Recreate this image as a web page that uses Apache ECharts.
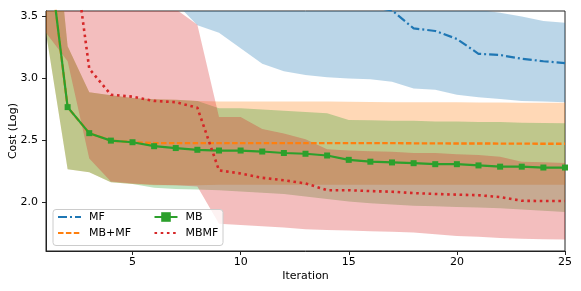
<!DOCTYPE html>
<html><head><meta charset="utf-8">
<script src="https://cdn.jsdelivr.net/npm/echarts@6/dist/echarts.min.js"></script>
<style>html,body{margin:0;padding:0;background:#fff}#c{width:581px;height:291px}</style>
</head><body><div id="c"></div>
<script>
const iterations = [1,2,3,4,5,6,7,8,9,10,11,12,13,14,15,16,17,18,19,20,21,22,23,24,25];
const xTicks = [5,10,15,20,25];
const yTicks = [2.0,2.5,3.0,3.5];

// MF
const mfMean = [5.30,5.10,4.95,4.80,4.65,4.50,4.35,4.20,4.08,3.97,3.87,3.79,3.72,3.66,3.61,3.58,3.55,3.405,3.384,3.32,3.20,3.19,3.16,3.14,3.125];
const mfLow  = [4.60,4.30,4.10,3.95,3.80,3.70,3.61,3.43,3.37,3.245,3.12,3.06,3.03,3.01,3.00,2.995,2.974,2.92,2.91,2.87,2.85,2.835,2.82,2.815,2.81];
const mfHigh = [6.00,5.90,5.80,5.65,5.50,5.30,5.10,4.97,4.79,4.69,4.62,4.52,4.41,4.31,4.22,4.16,4.13,3.89,3.86,3.77,3.555,3.53,3.50,3.465,3.45];
// MB+MF
const mbPlusMfMean = [4.19,2.77,2.56,2.50,2.487,2.48,2.48,2.48,2.48,2.48,2.48,2.48,2.48,2.48,2.48,2.48,2.48,2.478,2.478,2.477,2.477,2.476,2.476,2.475,2.475];
const mbPlusMfLow  = [3.37,2.27,2.245,2.165,2.15,2.14,2.14,2.14,2.145,2.145,2.145,2.145,2.145,2.145,2.145,2.145,2.145,2.145,2.145,2.145,2.145,2.145,2.145,2.145,2.145];
const mbPlusMfHigh = [5.01,3.26,2.89,2.865,2.843,2.834,2.83,2.82,2.815,2.815,2.815,2.815,2.815,2.815,2.813,2.812,2.81,2.81,2.81,2.81,2.808,2.808,2.806,2.805,2.805];
// MB
const mbMean = [4.19,2.77,2.56,2.50,2.487,2.455,2.44,2.426,2.42,2.42,2.412,2.40,2.394,2.38,2.345,2.33,2.324,2.318,2.31,2.31,2.30,2.29,2.29,2.283,2.283];
const mbLow  = [3.37,2.27,2.245,2.165,2.15,2.12,2.11,2.105,2.10,2.09,2.08,2.07,2.05,2.03,2.01,1.995,1.985,1.975,1.97,1.965,1.96,1.955,1.945,1.935,1.925];
const mbHigh = [5.01,3.26,2.89,2.865,2.843,2.834,2.83,2.82,2.76,2.76,2.75,2.74,2.73,2.72,2.667,2.665,2.66,2.66,2.655,2.655,2.65,2.65,2.645,2.642,2.64];
// MBMF
const mbmfMean = [4.70,4.39,3.08,2.87,2.854,2.82,2.81,2.765,2.26,2.235,2.20,2.18,2.155,2.10,2.10,2.093,2.088,2.077,2.07,2.064,2.06,2.045,2.015,2.013,2.013];
const mbmfLow  = [3.37,3.14,2.355,2.17,2.155,2.145,2.14,2.13,1.83,1.82,1.81,1.80,1.785,1.78,1.775,1.77,1.765,1.76,1.745,1.73,1.725,1.715,1.708,1.705,1.703];
const mbmfHigh = [6.00,5.64,3.80,3.60,3.58,3.57,3.56,3.435,2.69,2.69,2.594,2.557,2.51,2.43,2.42,2.415,2.41,2.40,2.40,2.39,2.385,2.37,2.33,2.325,2.32];

const FONT = 'DejaVu Sans';
function pairs(ys){ return iterations.map((x,i)=>[x, ys[i]]); }
function band(key, lo, hi, color){
  return {
    type:'custom', name:key+'_band', clip:true, silent:true, z:2,
    data: iterations.map((x,i)=>[x, lo[i], hi[i]]),
    encode:{x:0, y:[1,2]},
    renderItem:function(params, api){
      if (params.dataIndex !== 0) return null;
      const top = iterations.map((x,i)=>api.coord([x, hi[i]]));
      const bot = iterations.map((x,i)=>api.coord([x, lo[i]])).reverse();
      return {type:'polygon', shape:{points: top.concat(bot)}, style:{fill:color, opacity:0.3}};
    }
  };
}

const chart = echarts.init(document.getElementById('c'), null, {renderer:'canvas'});
const legendCommon = {orient:'vertical', padding:0, itemWidth:23, itemHeight:12, itemGap:4,
  textStyle:{fontSize:11, fontFamily:FONT, color:'#000', lineHeight:12, padding:[0,0,0,3]}, z:30, selectedMode:false};
const noSym = {opacity:0};
chart.setOption({
  animation:false,
  grid:{left:46, right:16, top:11, bottom:40, containLabel:false, outerBoundsMode:'none',
    show:true, borderColor:'#222', borderWidth:1, backgroundColor:'transparent'},
  xAxis:{type:'value', min:1, max:25,
    axisLine:{show:true, lineStyle:{color:'#222', width:1}},
    axisTick:{show:true, length:4, customValues:xTicks, lineStyle:{color:'#222'}},
    axisLabel:{customValues:xTicks, margin:6, fontSize:11, fontFamily:FONT, color:'#000', formatter:v=>String(v)},
    splitLine:{show:false},
    name:'Iteration', nameLocation:'middle', nameGap:20, nameMoveOverlap:false,
    nameTextStyle:{fontSize:11, fontFamily:FONT, color:'#000'}},
  yAxis:{type:'value', min:1.61, max:3.545,
    axisLine:{show:true, lineStyle:{color:'#222', width:1}},
    axisTick:{show:true, length:4, customValues:yTicks, lineStyle:{color:'#222'}},
    axisLabel:{customValues:yTicks, margin:8, fontSize:11, fontFamily:FONT, color:'#000', formatter:v=>v.toFixed(1)},
    splitLine:{show:false},
    name:'Cost (Log)', nameLocation:'middle', nameGap:27, nameMoveOverlap:false,
    nameTextStyle:{fontSize:11, fontFamily:FONT, color:'#000'}},
  graphic:[{type:'rect', left:52.5, top:209, shape:{width:170, height:36, r:3},
    style:{fill:'rgba(255,255,255,0.8)', stroke:'#cccccc', lineWidth:1}, z:25}],
  legend:[
    Object.assign({data:[{name:'MF', itemStyle:noSym},{name:'MB+MF', itemStyle:noSym}], left:57, top:211}, legendCommon),
    Object.assign({data:[{name:'MB'},{name:'MBMF', itemStyle:noSym}], left:153.5, top:211}, legendCommon)
  ],
  series:[
    band('mf', mfLow, mfHigh, '#1f77b4'),
    band('mbpmf', mbPlusMfLow, mbPlusMfHigh, '#ff7f0e'),
    band('mb', mbLow, mbHigh, '#2ca02c'),
    band('mbmf', mbmfLow, mbmfHigh, '#d62728'),
    {type:'line', name:'MF', data:pairs(mfMean), symbol:'none', z:5,
      lineStyle:{color:'#1f77b4', width:2.2, type:[9,3,2,3]}, itemStyle:{color:'#1f77b4'}},
    {type:'line', name:'MB+MF', data:pairs(mbPlusMfMean), symbol:'none', z:5,
      lineStyle:{color:'#ff7f0e', width:2.4, type:[5.5,2.4]}, itemStyle:{color:'#ff7f0e'}},
    {type:'line', name:'MB', data:pairs(mbMean), symbol:'rect', symbolSize:6, showSymbol:true, z:6,
      lineStyle:{color:'#2ca02c', width:2.2}, itemStyle:{color:'#2ca02c'}},
    {type:'line', name:'MBMF', data:pairs(mbmfMean), symbol:'none', z:7,
      lineStyle:{color:'#d62728', width:2.6, type:[2.6,3.6]}, itemStyle:{color:'#d62728'}}
  ]
});
</script></body></html>
